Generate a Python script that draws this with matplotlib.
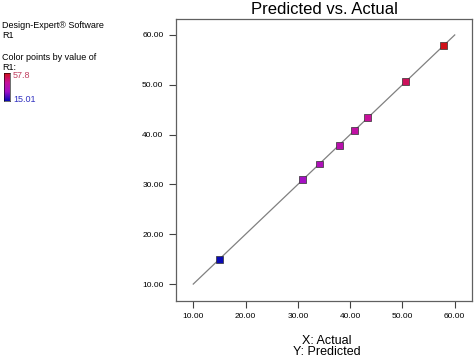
import numpy as np
import matplotlib
matplotlib.use("Agg")
import matplotlib.pyplot as plt
from matplotlib.colors import LinearSegmentedColormap, Normalize

plt.rcParams['font.family'] = ['Liberation Sans', 'DejaVu Sans']

# actual vs predicted R1
actual = [15.01, 30.9, 34.2, 37.9, 40.9, 43.4, 50.6, 57.8]
predicted = [15.0, 30.9, 34.1, 37.9, 40.8, 43.5, 50.6, 57.8]
ticks = [10, 20, 30, 40, 50, 60]
r1_min, r1_max = 15.01, 57.8

cmap = LinearSegmentedColormap.from_list("de", ["#0a0ab4", "#a010c8", "#c8109a", "#d01018"])
norm = Normalize(r1_min, r1_max)

fig = plt.figure(figsize=(4.74, 3.58), dpi=100)
ax = fig.add_axes([176/474, 57/358, 296/474, 282/358])

ax.plot([10, 60], [10, 60], color="#808080", lw=0.9, zorder=1)
ax.scatter(actual, predicted, c=actual, cmap=cmap, norm=norm, marker="s",
           s=25, edgecolors="#303030", linewidths=0.5, zorder=3)

ax.set_xlim(6.7, 63.3)
ax.set_ylim(6.6, 63.2)
ax.set_xticks(ticks)
ax.set_yticks(ticks)
ax.set_xticklabels(["%.2f" % t for t in ticks], fontsize=6)
ax.set_yticklabels(["%.2f" % t for t in ticks], fontsize=6)
ax.tick_params(direction="out", length=5, width=0.8, color="#404040", pad=4)
for s in ax.spines.values():
    s.set_color("#606060")
    s.set_linewidth(0.9)

fig.text(324/474, 1 - 10/358, "Predicted vs. Actual", ha="center", va="center", fontsize=12)
fig.text(327/474, 1 - 341/358, "X: Actual", ha="center", va="center", fontsize=9)
fig.text(327/474, 1 - 352/358, "Y: Predicted", ha="center", va="center", fontsize=9)

# left side annotation
fig.text(2/474, 1 - 25/358, "Design-Expert\u00ae Software", fontsize=6.5, va="center")
fig.text(2/474, 1 - 36/358, "R1", fontsize=6.5, va="center")
fig.text(2/474, 1 - 57/358, "Color points by value of", fontsize=6.5, va="center")
fig.text(2/474, 1 - 67/358, "R1:", fontsize=6.5, va="center")

cax = fig.add_axes([4/474, 1 - 101/358, 6/474, 28/358])
grad = np.linspace(0, 1, 100).reshape(-1, 1)
cax.imshow(grad, aspect="auto", cmap=cmap, origin="lower")
cax.set_xticks([])
cax.set_yticks([])
for s in cax.spines.values():
    s.set_linewidth(0.4)
fig.text(13/474, 1 - 76/358, "57.8", fontsize=6.5, va="center", color="#c04060")
fig.text(13/474, 1 - 99/358, "15.01", fontsize=6.5, va="center", color="#3030c0")

fig.savefig("out.png", dpi=100)
